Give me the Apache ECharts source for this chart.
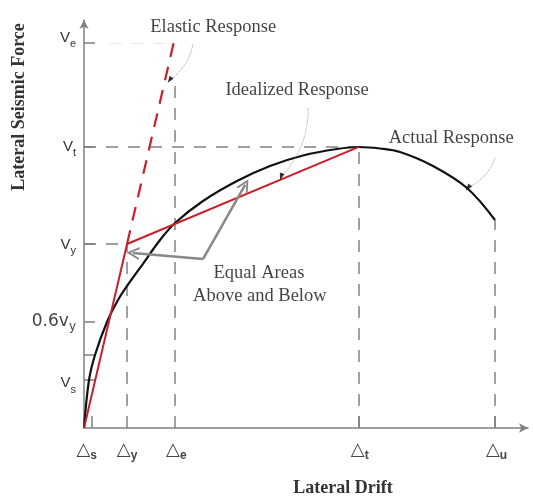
<!DOCTYPE html>
<html>
<head>
<meta charset="utf-8">
<script src="https://cdn.jsdelivr.net/npm/echarts@6/dist/echarts.min.js"></script>
<style>html,body{margin:0;padding:0;background:#fff}#c{width:533px;height:496px}</style>
</head>
<body>
<div id="c"></div>
<script>
// ---- data (arbitrary units: drift 0-100, force 0-100) ----
const xTickNames = ['s', 'y', 'e', 't', 'u'];
const xTickValues = [1.8, 9.7, 20.5, 61.9, 92.6];
const xLabelValues = [0.6, 9.7, 20.8, 62.1, 92.9];
const yTickNames = ['e', 't', 'y', '0.6y', '', 's'];
const yTickValues = [94.4, 68.9, 45.1, 26.0, 17.9, 11.8];
const yLabelNames = ['e', 't', 'y', '0.6y', 's'];
const yLabelValues = [95.6, 68.9, 44.9, 26.2, 11.0];

const actualX = [0, 1.13, 2.48, 5.18, 7.66, 9.68, 12.61, 17.12, 20.5, 26.8, 34.46, 41.89, 49.32, 56.98, 61.94, 66.67, 71.17, 78.6, 86.26, 92.57];
const actualY = [0, 11.76, 17.89, 25.98, 31.37, 34.8, 39.22, 46.08, 50.25, 55.64, 60.54, 64.22, 66.79, 68.38, 68.87, 68.5, 67.65, 64.22, 58.82, 50.98];

const idealX = [0, 9.7, 61.9];
const idealY = [0, 45.1, 68.9];

const elasticX = [9.7, 20.2];
const elasticY = [45.1, 94.4];

const deltaE_top = 85.3;   // top of the Δe guide
const deltaU_force = 51.0; // force at Δu

const annotationTexts = ['Elastic Response', 'Idealized Response', 'Actual Response', 'Equal Areas', 'Above and Below'];
const annotationX = [29.1, 48.0, 82.7, 39.4, 39.6];
const annotationY = [98.3, 82.8, 71.1, 38.0, 32.4];

const leaderFrom = [[24.5, 93.9], [50.5, 78.4], [92.6, 66.2]];
const leaderTo = [[19.3, 85.3], [44.4, 61.6], [86.5, 58.9]];
const leaderHeadAngle = [145, 162, 141];

const areaArrowVertex = [26.8, 41.4];
const areaArrowTips = [[11.0, 42.9], [36.3, 59.6]];

// ---- helpers ----
const zip = (xs, ys) => xs.map((x, i) => [x, ys[i]]);
const [dS, dY, dE, dT, dU] = xTickValues;
const [vE, vT, vY] = yTickValues;

const guideSegments = [
  [[0, vT], [dT, vT]],
  [[0, vY], [dY, vY]],
  [[dY, 0], [dY, vY]],
  [[dE, 0], [dE, deltaE_top]],
  [[dT, 0], [dT, vT]],
  [[dU, 0], [dU, deltaU_force]]
];

const gray = '#808080';
const chevron = 'path://M5,0L10,10L8.4,10L5,3.2L1.6,10L0,10Z';

const chart = echarts.init(document.getElementById('c'), null, {renderer: 'canvas'});
chart.setOption({
  backgroundColor: '#fff',
  animation: false,
  grid: {left: 84, right: 5, top: 20, bottom: 68},
  xAxis: {
    type: 'value', min: 0, max: 100,
    splitLine: {show: false},
    axisLine: {symbol: ['none', 'arrow'], symbolSize: [7, 9], lineStyle: {color: gray, width: 1.5}},
    axisTick: {show: true, inside: true, length: 12, customValues: [dS, dT, dU], lineStyle: {color: gray, width: 1.5}},
    axisLabel: {
      customValues: xLabelValues, margin: 10,
      formatter: v => { const i = xLabelValues.indexOf(v); return i < 0 ? '' : '{tri|△}{sub|' + xTickNames[i] + '}'; },
      rich: {
        tri: {fontFamily: 'DejaVu Sans', fontSize: 18, color: '#444', lineHeight: 24},
        sub: {fontFamily: 'Liberation Sans', fontSize: 12, fontWeight: 'bold', color: '#444', lineHeight: 12, verticalAlign: 'bottom'}
      }
    }
  },
  yAxis: {
    type: 'value', min: 0, max: 100,
    splitLine: {show: false},
    axisLine: {symbol: ['none', 'arrow'], symbolSize: [7, 9], lineStyle: {color: gray, width: 1.5}},
    axisTick: {show: true, inside: true, length: 11, customValues: yTickValues, lineStyle: {color: gray, width: 1.5}},
    axisLabel: {
      customValues: yLabelValues, margin: 8,
      formatter: v => {
        const i = yLabelValues.indexOf(v); if (i < 0) return '';
        const n = yLabelNames[i];
        if (n === '0.6y') return '{big|0.6v}{bigsub|y}';
        return '{v|V}{sub|' + n + '}';
      },
      rich: {
        v: {fontFamily: 'Liberation Sans', fontSize: 15, color: '#333', lineHeight: 24},
        sub: {fontFamily: 'Liberation Sans', fontSize: 11, color: '#333', lineHeight: 12, verticalAlign: 'bottom'},
        big: {fontFamily: 'DejaVu Sans', fontSize: 17, color: '#444', lineHeight: 24},
        bigsub: {fontFamily: 'DejaVu Sans', fontSize: 12, color: '#444', lineHeight: 14, verticalAlign: 'bottom'}
      }
    }
  },
  graphic: [
    {type: 'text', x: 19, y: 107, rotation: Math.PI / 2,
     style: {text: 'Lateral Seismic Force', font: 'bold 18px "Liberation Serif"', fill: '#333', align: 'center', verticalAlign: 'middle'}},
    {type: 'text', x: 343, y: 488,
     style: {text: 'Lateral Drift', font: 'bold 18px "Liberation Serif"', fill: '#333', align: 'center', verticalAlign: 'middle'}}
  ],
  series: [
    {type: 'lines', coordinateSystem: 'cartesian2d', silent: true, z: 1,
     lineStyle: {color: '#e8e8e8', width: 1.2, type: [12, 10], opacity: 1},
     data: [{coords: [[dS + 4, vE], [dE, vE]]}]},
    {type: 'lines', coordinateSystem: 'cartesian2d', silent: true, z: 2,
     lineStyle: {color: gray, width: 1.5, type: [12, 10], opacity: 1},
     data: guideSegments.map(c => ({coords: c}))},
    {type: 'line', data: zip(actualX, actualY), smooth: 0.35, showSymbol: false, z: 3,
     lineStyle: {color: '#111', width: 2.2}},
    {type: 'line', data: zip(idealX, idealY), showSymbol: false, z: 4,
     lineStyle: {color: '#c8202a', width: 2}},
    {type: 'line', data: zip(elasticX, elasticY), showSymbol: false, z: 4,
     lineStyle: {color: '#c8202a', width: 2.2, type: [14, 10]}},
    {type: 'lines', coordinateSystem: 'cartesian2d', silent: true, z: 5,
     lineStyle: {color: '#9a9a9a', width: 1, type: 'dotted', curveness: 0.2, opacity: 1},
     data: leaderFrom.map((f, i) => ({coords: [f, leaderTo[i]]}))},
    {type: 'scatter', symbol: 'triangle', symbolSize: [5, 7], z: 6,
     itemStyle: {color: '#000'},
     data: leaderTo.map((p, i) => ({value: p, symbolRotate: leaderHeadAngle[i]}))},
    {type: 'lines', coordinateSystem: 'cartesian2d', silent: true, z: 6,
     symbol: ['none', chevron], symbolSize: 13,
     lineStyle: {color: '#888', width: 2.5, opacity: 1},
     data: areaArrowTips.map(t => ({coords: [areaArrowVertex, t]}))},
    {type: 'scatter', symbolSize: 0, z: 7, silent: true,
     label: {show: true, position: 'inside', formatter: p => p.name,
             fontFamily: 'Liberation Serif', fontSize: 18.5, color: '#111'},
     data: annotationTexts.map((t, i) => ({name: t, value: [annotationX[i], annotationY[i]]}))}
  ]
});
</script>
</body>
</html>
